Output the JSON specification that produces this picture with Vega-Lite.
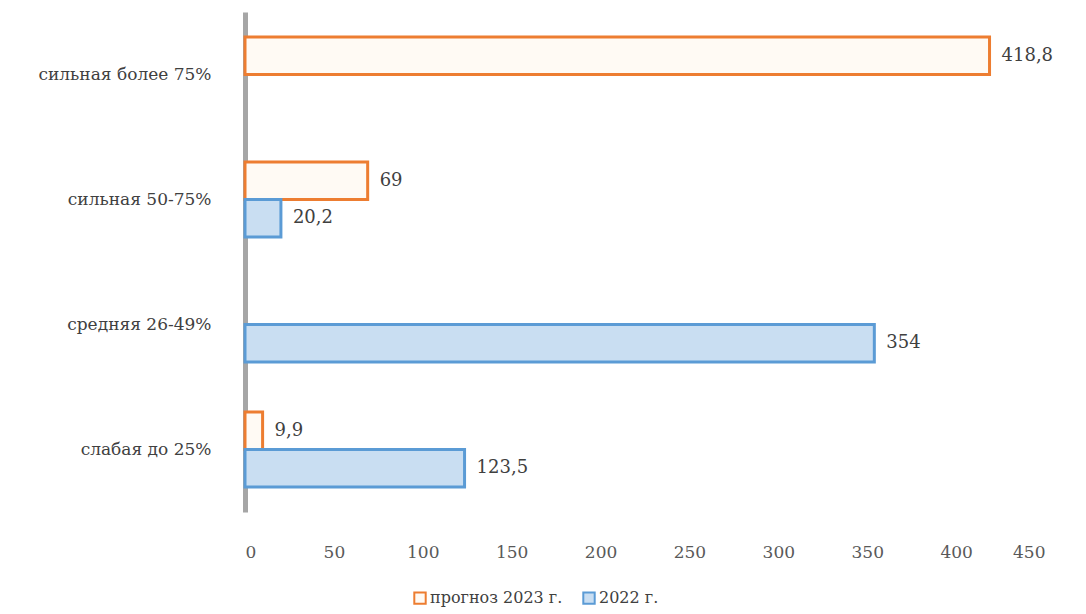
{
  "$schema": "https://vega.github.io/schema/vega-lite/v6.json",
  "autosize": {"type": "none"},
  "width": 800,
  "height": 500,
  "padding": {"left": 245, "top": 12, "right": 41, "bottom": 102},
  "background": "white",
  "config": {
    "view": {"stroke": null},
    "font": "DejaVu Serif",
    "locale": {"number": {"decimal": ",", "thousands": " ", "grouping": [3], "currency": ["", ""]}}
  },
  "data": {
    "values": [
      {"category": "сильная более 75%", "series": "прогноз 2023 г.", "value": 418.8},
      {"category": "сильная 50-75%", "series": "прогноз 2023 г.", "value": 69},
      {"category": "сильная 50-75%", "series": "2022 г.", "value": 20.2},
      {"category": "средняя 26-49%", "series": "2022 г.", "value": 354},
      {"category": "слабая до 25%", "series": "прогноз 2023 г.", "value": 9.9},
      {"category": "слабая до 25%", "series": "2022 г.", "value": 123.5}
    ]
  },
  "encoding": {
    "y": {
      "field": "category",
      "type": "nominal",
      "sort": ["сильная более 75%", "сильная 50-75%", "средняя 26-49%", "слабая до 25%"],
      "scale": {"paddingInner": 0.4, "paddingOuter": 0.2},
      "axis": {
        "title": null,
        "ticks": false,
        "domainColor": "#a6a6a6",
        "domainWidth": 5,
        "labelFont": "DejaVu Serif",
        "labelFontSize": 17,
        "labelColor": "#404040",
        "labelPadding": 34
      }
    },
    "yOffset": {
      "field": "series",
      "type": "nominal",
      "sort": ["прогноз 2023 г.", "2022 г."]
    },
    "x": {
      "field": "value",
      "type": "quantitative",
      "scale": {"domain": [0, 450], "nice": false},
      "axis": {
        "title": null,
        "values": [0, 50, 100, 150, 200, 250, 300, 350, 400, 450],
        "grid": false,
        "domain": false,
        "ticks": false,
        "labelFont": "DejaVu Serif",
        "labelFontSize": 17,
        "labelColor": "#595959",
        "labelPadding": 32
      }
    }
  },
  "layer": [
    {
      "mark": {"type": "bar", "strokeWidth": 3},
      "encoding": {
        "fill": {
          "field": "series",
          "type": "nominal",
          "scale": {"domain": ["прогноз 2023 г.", "2022 г."], "range": ["#fffaf4", "#c9def2"]},
          "legend": {
            "title": null,
            "orient": "none",
            "legendX": 167,
            "legendY": 578,
            "direction": "horizontal",
            "symbolType": "square",
            "symbolSize": 130,
            "symbolStrokeWidth": 2,
            "labelFont": "DejaVu Serif",
            "labelFontSize": 16,
            "labelColor": "#404040",
            "columnPadding": 16,
            "labelOffset": 2
          }
        },
        "stroke": {
          "field": "series",
          "type": "nominal",
          "scale": {"domain": ["прогноз 2023 г.", "2022 г."], "range": ["#ed7d31", "#5b9bd5"]},
          "legend": null
        }
      }
    },
    {
      "mark": {"type": "text", "align": "left", "dx": 12, "fontSize": 18, "color": "#404040", "font": "DejaVu Serif"},
      "encoding": {
        "text": {"field": "value", "type": "quantitative", "format": "~g"}
      }
    }
  ]
}
